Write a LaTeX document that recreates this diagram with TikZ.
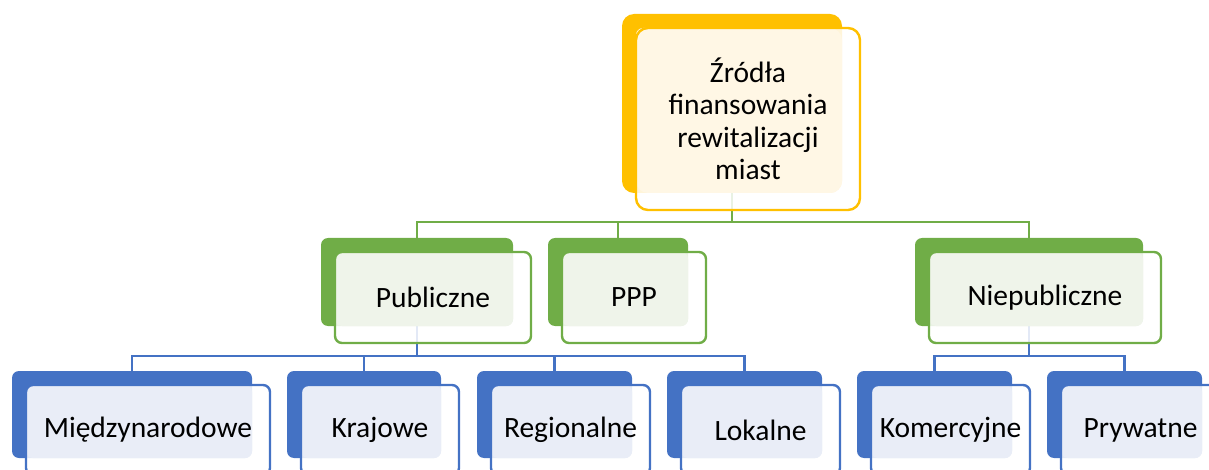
\documentclass[tikz,border=0pt]{standalone}
\usepackage{fontspec}
\setmainfont{Carlito}
\definecolor{yel}{HTML}{FFC000}
\definecolor{yellt}{HTML}{FFF7E5}
\definecolor{grn}{HTML}{70AD47}
\definecolor{grnlt}{HTML}{EFF4EA}
\definecolor{blu}{HTML}{4472C4}
\definecolor{blult}{HTML}{E9EDF7}
\pgfdeclarelayer{bg}
\pgfsetlayers{bg,main}
\tikzset{
  ybk/.style={fill=yel, rounded corners=12pt},
  ylt/.style={fill=yellt, rounded corners=12pt},
  yfr/.style={draw=yel, line width=2.4pt, rounded corners=12pt},
  gbk/.style={fill=grn, rounded corners=7pt},
  glt/.style={fill=grnlt, rounded corners=7pt},
  gfr/.style={draw=grn, line width=2.4pt, rounded corners=7pt},
  bbk/.style={fill=blu, rounded corners=7pt},
  blt/.style={fill=blult, rounded corners=7pt},
  bfr/.style={draw=blu, line width=2.4pt, rounded corners=7pt},
  gline/.style={draw=grn, line width=2.2pt},
  bline/.style={draw=blu, line width=2.2pt},
  txt/.style={font=\fontsize{29.5}{32.5}\selectfont, align=center, inner sep=0pt, text=black},
}
% #1 name, #2 colour prefix, #3 x1, #4 y1, #5 x2, #6 y2 (back box), #7 text
\newcommand\mkpair[7]{%
  \node[#2bk, minimum width={#5-#3}, minimum height={#6-#4}, inner sep=0pt] (#1B) at ({(#3+#5)/2},{(#4+#6)/2}) {};
  \fill[white, fill opacity=0.85, rounded corners=7pt] ({#3+14},{#4+14}) rectangle ({#5+18},{#6+17});
  \path[#2lt] ({#3+14},{#4+14}) rectangle ({#5},{#6});
  \node[#2fr, txt, minimum width={#5-#3+4}, minimum height={#6-#4+3}] (#1) at ({(#3+#5)/2+16},{(#4+#6)/2+15.5}) {#7};
}
\begin{document}
\begin{tikzpicture}[x=1pt,y=-1pt]
\useasboundingbox (0,0) rectangle (1209,470);
\clip (0,0) rectangle (1209,470);
\mkpair{top}{y}{622}{14}{842}{193}{Źródła\\finansowania\\rewitalizacji\\miast}
\mkpair{pub}{g}{321}{238}{513}{326}{Publiczne}
\mkpair{ppp}{g}{548}{238}{688}{326}{PPP}
\mkpair{nie}{g}{915}{238}{1143}{326}{Niepubliczne}
\mkpair{mie}{b}{12}{371}{252}{458}{Międzynarodowe}
\mkpair{kra}{b}{287}{371}{441}{458}{Krajowe}
\mkpair{reg}{b}{477}{371}{632}{458}{Regionalne}
\mkpair{lok}{b}{667}{371}{822}{458}{Lokalne}
\mkpair{kom}{b}{857}{371}{1012}{458}{Komercyjne}
\mkpair{pry}{b}{1047}{371}{1202}{458}{Prywatne}
\begin{pgfonlayer}{bg}
  \draw[gline] (topB.south) -- ++(0,29) -| (pubB.north);
  \draw[gline] (topB.south) -- ++(0,29) -| (pppB.north);
  \draw[gline] (topB.south) -- ++(0,29) -| (nieB.north);
  \draw[bline] (pubB.south) -- ++(0,30) -| (mieB.north);
  \draw[bline] (pubB.south) -- ++(0,30) -| (kraB.north);
  \draw[bline] (pubB.south) -- ++(0,30) -| (regB.north);
  \draw[bline] (pubB.south) -- ++(0,30) -| (lokB.north);
  \draw[bline] (nieB.south) -- ++(0,30) -| (komB.north);
  \draw[bline] (nieB.south) -- ++(0,30) -| (pryB.north);
\end{pgfonlayer}
\end{tikzpicture}
\end{document}
